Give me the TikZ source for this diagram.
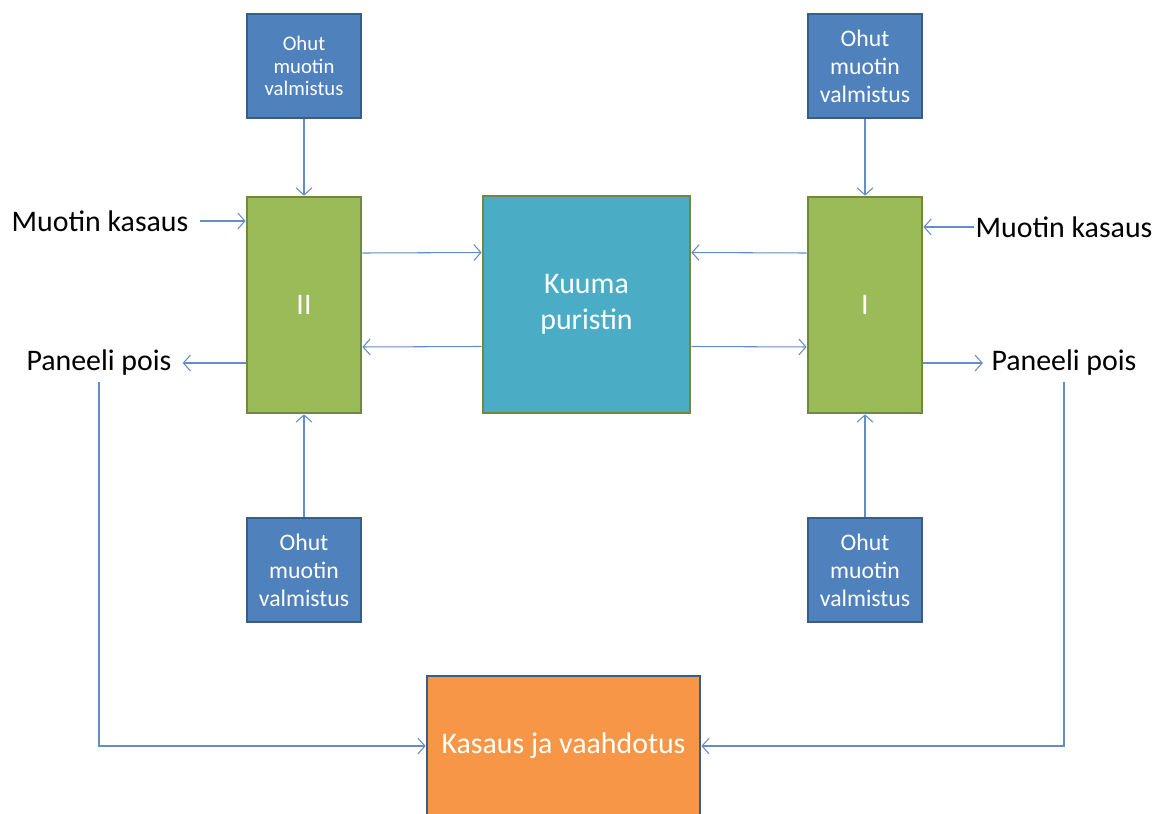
\documentclass[tikz,border=0pt]{standalone}
\usepackage{fontspec}
\setmainfont{Carlito}
\usetikzlibrary{arrows.meta,positioning}
\definecolor{mouldfill}{RGB}{79,129,189}
\definecolor{mouldedge}{RGB}{56,93,138}
\definecolor{stationfill}{RGB}{155,187,89}
\definecolor{stationedge}{RGB}{113,137,63}
\definecolor{pressfill}{RGB}{75,172,198}
\definecolor{foamfill}{RGB}{247,150,70}
\definecolor{linkblue}{RGB}{100,140,200}

\begin{document}
\begin{tikzpicture}[
  x=0.02cm, y=-0.02cm,
  mould/.style={rectangle, draw=mouldedge, fill=mouldfill, line width=1.6pt, minimum width=2.28cm, minimum height=2.08cm, align=center, text=white, font=\fontsize{13.5}{16}\selectfont},
  station/.style={rectangle, draw=stationedge, fill=stationfill, line width=1.6pt, minimum width=2.28cm, minimum height=4.32cm, text=white, font=\fontsize{17}{20}\selectfont},
  press/.style={rectangle, draw=stationedge, fill=pressfill, line width=1.6pt, minimum width=4.14cm, minimum height=4.34cm, align=center, text=white, font=\fontsize{17}{20.5}\selectfont},
  foam/.style={rectangle, draw=mouldedge, fill=foamfill, line width=1.6pt, minimum width=5.46cm, minimum height=2.8cm, text=white, font=\fontsize{17}{20}\selectfont},
  label/.style={font=\fontsize{17}{20}\selectfont},
  flow/.style={-{Straight Barb[length=4pt,width=9pt]}, draw=linkblue, line width=0.6pt}
]
\useasboundingbox (0,0) rectangle (1170,814);

% Mould preparation
\node[mould, font=\fontsize{11.8}{12.6}\selectfont] (top2) at (304,66) {Ohut\\muotin\\valmistus};
\node[mould] (top1) at (865,66) {Ohut\\muotin\\valmistus};
\node[mould] (bot2) at (304,570) {Ohut\\muotin\\valmistus};
\node[mould] (bot1) at (865,570) {Ohut\\muotin\\valmistus};

% Stations and press
\node[station] (st2) at (304,305) {II};
\node[station] (st1) at (865,305) {I};
\node[press] (press) at (586.5,304.5) {Kuuma\\puristin};
\node[foam] (foam) at (563.5,746) {Kasaus ja vaahdotus};

% Side labels
\node[label] (in2) at (100,221) {Muotin kasaus};
\node[label] (in1) at (1064,227) {Muotin kasaus};
\node[label] (out2) at (99,363) {Paneeli pois};
\node[label] (out1) at (1064,363) {Paneeli pois};

% Moulds into stations
\draw[flow] (top2) -- (st2);
\draw[flow] (bot2) -- (st2);
\draw[flow] (top1) -- (st1);
\draw[flow] (bot1) -- (st1);

% Stations and press
\draw[flow] ([yshift=1.04cm]st2.east) -- ([yshift=1.04cm]press.west);
\draw[flow] ([yshift=-0.84cm]press.west) -- ([yshift=-0.84cm]st2.east);
\draw[flow] ([yshift=-0.84cm]press.east) -- ([yshift=-0.84cm]st1.west);
\draw[flow] ([yshift=1.04cm]st1.west) -- ([yshift=1.04cm]press.east);

% In and out
\draw[flow, shorten <=0.1cm] (in2) -- (in2 -| st2.west);
\draw[flow, shorten <=-0.1cm] (in1) -- (in1 -| st1.east);
\draw[flow, shorten >=0.1cm] (out2 -| st2.west) -- (out2);
\draw[flow, shorten >=0.05cm] (out1 -| st1.east) -- (out1);

% Back to foaming
\draw[flow] (out2.south) -- (out2.south |- foam) -- (foam.west);
\draw[flow] (out1.south) -- (out1.south |- foam) -- (foam.east);

\end{tikzpicture}
\end{document}
